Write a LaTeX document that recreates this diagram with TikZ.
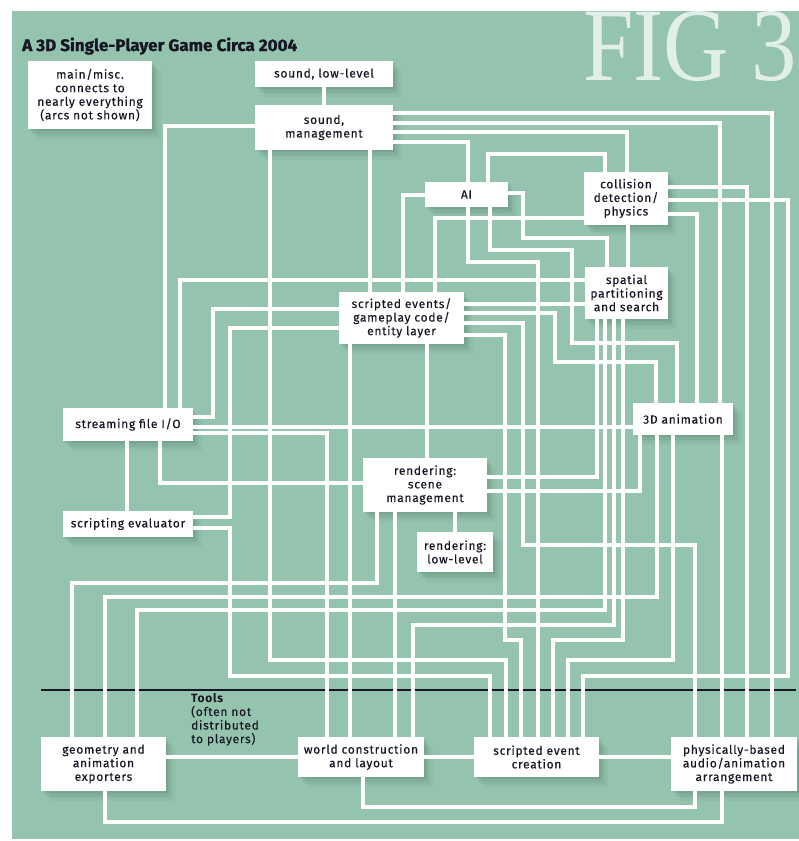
\documentclass[tikz,border=0pt]{standalone}
\usepackage{graphicx}
\usepackage{fontspec}
\setmainfont{Fira Sans}[LetterSpace=6, UprightFeatures={FakeBold=0.25}]
\newfontfamily\titlefont{Fira Sans}[BoldFeatures={FakeBold=1.2}]
\newfontfamily\figfont{Liberation Serif}
\usetikzlibrary{shadows}

\definecolor{paneGreen}{RGB}{149,196,174}
\definecolor{figTint}{RGB}{226,239,232}
\definecolor{inkDark}{RGB}{22,22,36}
\definecolor{shadeTone}{RGB}{40,80,60}
\newcommand{\nodeTextFont}{\fontsize{12}{13.6}\selectfont}

\begin{document}
\begin{tikzpicture}[x=1pt,y=-1pt,
  wire/.style={draw=white, line width=3.2pt},
  softshade/.style={
    general shadow={fill=shadeTone, opacity=.10, shadow xshift=1.5pt, shadow yshift=-2pt},
    general shadow={fill=shadeTone, opacity=.08, shadow xshift=3.5pt, shadow yshift=-4.5pt},
    general shadow={fill=shadeTone, opacity=.06, shadow xshift=6pt, shadow yshift=-7pt},
    general shadow={fill=shadeTone, opacity=.05, shadow xshift=9pt, shadow yshift=-10pt}},
  box/.style={softshade, fill=white, inner sep=0pt, align=center,
    text=inkDark, font=\nodeTextFont},
  divider/.style={draw=inkDark, line width=2pt}
]
% page and panel
\useasboundingbox (0,0) rectangle (799,841);
\fill[white] (0,0) rectangle (799,841);
\fill[paneGreen] (12,11) rectangle (799,839);

% headline and figure number
\begin{scope}
  \clip (12,11) rectangle (799,839);
  \node[anchor=south west, inner sep=0pt, text=figTint] (figlabel) at (583,82)
    {\resizebox{214pt}{69pt}{\figfont FIG 3}};
\end{scope}
\node[anchor=base west, inner sep=0pt, text=inkDark] (title) at (22,51)
  {\resizebox{275pt}{13.5pt}{\titlefont\bfseries A 3D Single-Player Game Circa 2004}};

% separator between game code and tools
\draw[divider] (41,690) -- (796,690);
\node[anchor=north west, align=left, inner sep=0pt, text=inkDark, font=\nodeTextFont]
  (tools) at (191,693) {\textbf{Tools}\\(often not\\distributed\\to players)};

% components
\node[box, minimum width=124pt, minimum height=68pt] (main) at (90,95)
  {main/misc.\\connects to\\nearly everything\\(arcs not shown)};
\node[box, minimum width=138pt, minimum height=26pt] (sll) at (324,74) {sound, low-level};
\node[box, minimum width=138pt, minimum height=45pt] (sm) at (324,127.5) {sound,\\management};
\node[box, minimum width=83pt, minimum height=25pt] (ai) at (466.5,194.5) {AI};
\node[box, minimum width=84pt, minimum height=53pt] (col) at (626,198.5)
  {collision\\detection/\\physics};
\node[box, minimum width=83pt, minimum height=52pt] (sp) at (626.5,293)
  {spatial\\partitioning\\and search};
\node[box, minimum width=125pt, minimum height=52pt] (se) at (401.5,318)
  {scripted events/\\gameplay code/\\entity layer};
\node[box, minimum width=100pt, minimum height=32pt] (anim) at (683,419) {3D animation};
\node[box, minimum width=130pt, minimum height=33pt] (sio) at (128,424.5) {streaming file I/O};
\node[box, minimum width=124pt, minimum height=54pt] (rsm) at (425,485)
  {rendering:\\scene\\management};
\node[box, minimum width=76pt, minimum height=40pt] (rll) at (455,552) {rendering:\\low-level};
\node[box, minimum width=130pt, minimum height=26pt] (sev) at (128,524) {scripting evaluator};
\node[box, minimum width=125pt, minimum height=54pt] (geo) at (103.5,764)
  {geometry and\\animation\\exporters};
\node[box, minimum width=126pt, minimum height=40pt] (wc) at (361,757)
  {world construction\\and layout};
\node[box, minimum width=125pt, minimum height=40pt] (sec) at (536.5,757)
  {scripted event\\creation};
\node[box, minimum width=126pt, minimum height=54pt] (pb) at (734,764)
  {physically-based\\audio/animation\\arrangement};

% sound
\draw[wire] (sll.south) -- (sm.north);
\draw[wire] (sm.west |- 0,126) -| (sio.north -| 165,0);
\draw[wire] (sm.south -| 370,0) -- (se.north -| 370,0);
\draw[wire] (sm.south -| 270,0) -- (270,660) -- (506,660) -- (sec.north -| 506,0);
\draw[wire] (sm.east |- 0,113) -| (pb.north -| 772,0);
\draw[wire] (sm.east |- 0,123) -| (anim.north -| 720,0);
\draw[wire] (sm.east |- 0,132) -| (col.north -| 627,0);
\draw[wire] (sm.east |- 0,142) -| (ai.north -| 468,0);

% AI and collision
\draw[wire] (col.north -| 605,0) -- (605,154) -- (488,154) -- (ai.north -| 488,0);
\draw[wire] (ai.south -| 490,0) -- (490,250) -- (572,250) -- (572,343) -- (677,343)
  -- (anim.north -| 677,0);
\draw[wire] (ai.south -| 468,0) -- (468,262) -- (538,262) -- (sec.north -| 538,0);
\draw[wire] (ai.east |- 0,193) -- (523,193) -- (523,238) -- (607,238) -- (sp.north -| 607,0);
\draw[wire] (ai.west |- 0,195) -| (se.north -| 403,0);
\draw[wire] (col.west |- 0,218) -| (se.north -| 435,0);
\draw[wire] (col.south -| 628,0) -- (sp.north -| 628,0);
\draw[wire] (col.east |- 0,187) -| (pb.north -| 747,0);
\draw[wire] (col.east |- 0,200) -- (788,200) -- (788,676) -- (583,676) -- (sec.north -| 583,0);
\draw[wire] (col.east |- 0,214) -| (anim.north -| 697,0);

% scripted events / gameplay layer
\draw[wire] (sio.north -| 180,0) |- (sp.west |- 0,280);
\draw[wire] (se.east |- 0,304) -- (sp.west |- 0,304);
\draw[wire] (se.east |- 0,313) -- (555,313) -- (555,362) -- (656,362) -- (anim.north -| 656,0);
\draw[wire] (se.east |- 0,323) -- (523,323) -- (523,545) -- (695,545) -- (pb.north -| 695,0);
\draw[wire] (se.east |- 0,335) -- (505,335) -- (505,640) -- (521,640) -- (sec.north -| 521,0);
\draw[wire] (se.west |- 0,309) -- (213,309) -- (213,417) -- (sio.east |- 0,417);
\draw[wire] (se.west |- 0,328) -- (230,328) -- (230,517) -- (sev.east |- 0,517);
\draw[wire] (se.south -| 350,0) -- (wc.north -| 350,0);
\draw[wire] (se.south -| 427,0) -- (rsm.north -| 427,0);

% streaming and scripting
\draw[wire] (sio.east |- 0,427) -- (anim.west |- 0,427);
\draw[wire] (sio.east |- 0,433) -| (wc.north -| 327,0);
\draw[wire] (sio.south -| 127,0) -- (sev.north -| 127,0);
\draw[wire] (sio.south -| 160,0) |- (rsm.west |- 0,483);
\draw[wire] (sev.east |- 0,528) -- (230,528) -- (230,676) -- (490,676) -- (sec.north -| 490,0);

% rendering
\draw[wire] (rsm.east |- 0,477) -| (sp.south -| 597,0);
\draw[wire] (rsm.east |- 0,491) -| (anim.south -| 640,0);
\draw[wire] (rsm.south -| 455,0) -- (rll.north -| 455,0);
\draw[wire] (rsm.south -| 377,0) -- (377,583) -- (72,583) -- (geo.north -| 72,0);
\draw[wire] (rsm.south -| 395,0) -- (wc.north -| 395,0);

% animation and spatial queries
\draw[wire] (anim.south -| 657,0) -- (657,597) -- (105,597) -- (geo.north -| 105,0);
\draw[wire] (anim.south -| 673,0) -- (673,660) -- (568,660) -- (sec.north -| 568,0);
\draw[wire] (anim.south -| 722,0) -- (pb.north -| 722,0);
\draw[wire] (sp.south -| 605,0) -- (605,610) -- (137,610) -- (geo.north -| 137,0);
\draw[wire] (sp.south -| 614,0) -- (614,625) -- (413,625) -- (wc.north -| 413,0);
\draw[wire] (sp.south -| 623,0) -- (623,640) -- (553,640) -- (sec.north -| 553,0);

% tools
\draw[wire] (geo.east |- 0,757) -- (wc.west |- 0,757);
\draw[wire] (wc.east) -- (sec.west);
\draw[wire] (sec.east |- 0,757) -- (pb.west |- 0,757);
\draw[wire] (geo.south -| 105,0) -- (105,822) -- (722,822) -- (pb.south -| 722,0);
\draw[wire] (wc.south -| 363,0) -- (363,807) -- (695,807) -- (pb.south -| 695,0);
\end{tikzpicture}
\end{document}
